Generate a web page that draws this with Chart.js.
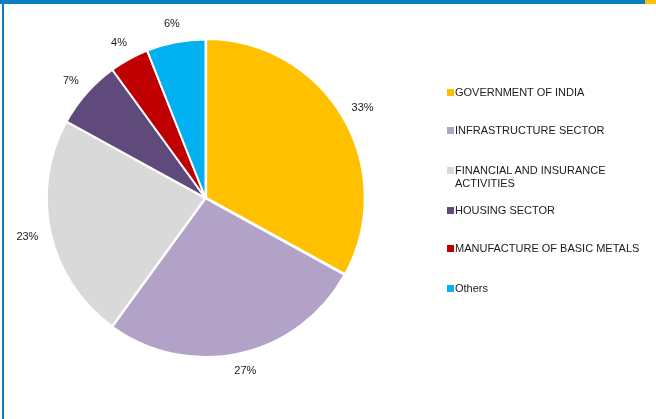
<!DOCTYPE html>
<html>
<head>
<meta charset="utf-8">
<script src="https://cdn.jsdelivr.net/npm/chart.js@4.4.1/dist/chart.umd.min.js"></script>
<style>
  html, body { margin: 0; padding: 0; background: #fff; }
  #wrap { position: relative; width: 656px; height: 419px; overflow: hidden; font-family: "Liberation Sans", Arial, sans-serif; }
  #topbar { position: absolute; left: 0; top: 0; width: 656px; height: 4px; background: #0B7DC2; }
  #topaccent { position: absolute; left: 645px; top: 0; width: 11px; height: 4px; background: #FFC000; }
  #leftbar { position: absolute; left: 2px; top: 0; width: 2px; height: 419px; background: #0B7DC2; }
  #c { position: absolute; left: 0; top: 0; }
  #legend { position: absolute; left: 447px; top: 0; }
  .li { position: absolute; left: 0; width: 210px; font-size: 11px; line-height: 13px; color: #1a1a1a; white-space: nowrap; }
  .sw { position: absolute; left: 0; top: 3px; width: 7px; height: 7px; }
  .tx { position: absolute; left: 8px; top: 0; }
</style>
</head>
<body>
<div id="wrap">
  <canvas id="c" width="656" height="419"></canvas>
  <div id="topbar"></div>
  <div id="topaccent"></div>
  <div id="leftbar"></div>
  <div id="legend"></div>
</div>
<script>
const categories = ["GOVERNMENT OF INDIA", "INFRASTRUCTURE SECTOR", "FINANCIAL AND INSURANCE ACTIVITIES", "HOUSING SECTOR", "MANUFACTURE OF BASIC METALS", "Others"];
const legendLines = [["GOVERNMENT OF INDIA"], ["INFRASTRUCTURE SECTOR"], ["FINANCIAL AND INSURANCE", "ACTIVITIES"], ["HOUSING SECTOR"], ["MANUFACTURE OF BASIC METALS"], ["Others"]];
const shares = [33, 27, 23, 7, 4, 6];
const colors = ["#FFC000", "#B3A2C7", "#D9D9D9", "#604A7B", "#C00000", "#00B0F0"];
const legendRowTops = [86, 124, 164, 204, 242, 282];

// HTML legend
const leg = document.getElementById('legend');
categories.forEach((c, i) => {
  const d = document.createElement('div');
  d.className = 'li';
  d.style.top = legendRowTops[i] + 'px';
  const s = document.createElement('div');
  s.className = 'sw';
  s.style.background = colors[i];
  const t = document.createElement('div');
  t.className = 'tx';
  t.innerHTML = legendLines[i].join('<br>');
  d.appendChild(s); d.appendChild(t);
  leg.appendChild(d);
});

const labelPlugin = {
  id: 'outLabels',
  afterDatasetsDraw(chart) {
    const ctx = chart.ctx;
    const meta = chart.getDatasetMeta(0);
    ctx.save();
    ctx.font = '11px "Liberation Sans", Arial, sans-serif';
    ctx.fillStyle = '#1a1a1a';
    ctx.textAlign = 'center';
    ctx.textBaseline = 'middle';
    meta.data.forEach((arc, i) => {
      const p = arc.getProps(['x', 'y', 'startAngle', 'endAngle', 'outerRadius'], true);
      const mid = (p.startAngle + p.endAngle) / 2;
      const txt = shares[i] + '%';
      const w = ctx.measureText(txt).width;
      const h = 11;
      const r = p.outerRadius + 11;
      const cx = p.x + Math.cos(mid) * r + Math.cos(mid) * (w / 2 + 2);
      const cy = p.y + Math.sin(mid) * r + Math.sin(mid) * (h / 2 + 2);
      ctx.fillText(txt, cx, cy);
    });
    ctx.restore();
  }
};

new Chart(document.getElementById('c'), {
  type: 'pie',
  data: {
    labels: categories,
    datasets: [{
      data: shares,
      backgroundColor: colors,
      borderColor: '#ffffff',
      borderWidth: 2,
      offset: [3, 2, 1, 0, 0, 0],
      hoverOffset: 0
    }]
  },
  options: {
    responsive: false,
    animation: false,
    events: [],
    layout: { padding: { left: 44, top: 37, right: 289, bottom: 60 } },
    plugins: { legend: { display: false }, tooltip: { enabled: false } }
  },
  plugins: [labelPlugin]
});
</script>
</body>
</html>
